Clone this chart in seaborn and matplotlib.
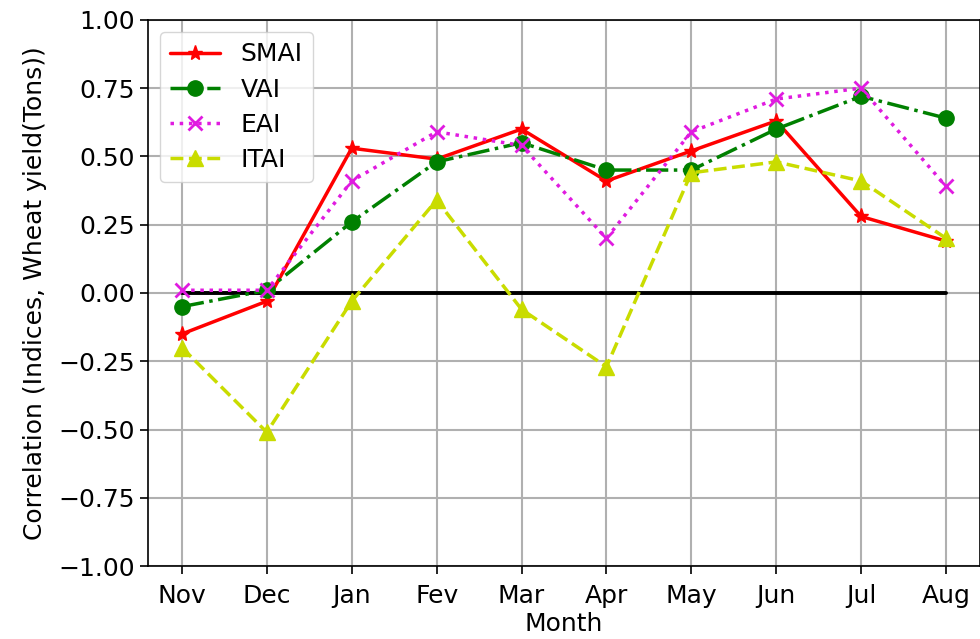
import matplotlib
matplotlib.use("Agg")
import matplotlib.pyplot as plt
import seaborn as sns
import pandas as pd

months = ["Nov", "Dec", "Jan", "Fev", "Mar", "Apr", "May", "Jun", "Jul", "Aug"]
smai = [-0.15, -0.03, 0.53, 0.49, 0.60, 0.41, 0.52, 0.63, 0.28, 0.19]
vai = [-0.05, 0.01, 0.26, 0.48, 0.55, 0.45, 0.45, 0.60, 0.72, 0.64]
eai = [0.01, 0.01, 0.41, 0.59, 0.54, 0.20, 0.59, 0.71, 0.75, 0.39]
itai = [-0.20, -0.51, -0.03, 0.34, -0.06, -0.27, 0.44, 0.48, 0.41, 0.20]
zero_line = [0.0] * len(months)
y_ticks = [-1.00, -0.75, -0.50, -0.25, 0.00, 0.25, 0.50, 0.75, 1.00]

sns.set_style("ticks")
plt.rcParams["font.family"] = ["DejaVu Sans"]
plt.rcParams["text.color"] = "black"
plt.rcParams["axes.labelcolor"] = "black"
plt.rcParams["xtick.color"] = "black"
plt.rcParams["ytick.color"] = "black"

fig = plt.figure(figsize=(9.8, 6.39), dpi=100)
ax = fig.add_axes([0.151, 0.114, 0.849, 0.855])

pos = list(range(len(months)))
df = pd.DataFrame({"pos": pos, "SMAI": smai, "VAI": vai, "EAI": eai,
                   "ITAI": itai, "zero": zero_line})

series = [
    ("SMAI", "#ff0000", "-", "*", 11),
    ("VAI", "#008000", "-.", "o", 11),
    ("EAI", "#e01be0", ":", "x", 10),
    ("ITAI", "#c9dc00", "--", "^", 11),
]
for name, color, ls, mk, ms in series:
    sns.lineplot(data=df, x="pos", y=name, ax=ax, color=color, linestyle=ls,
                 marker=mk, markersize=ms, linewidth=2.5, label=name,
                 markeredgecolor=color, markeredgewidth=2 if mk == "x" else 1)

sns.lineplot(data=df, x="pos", y="zero", ax=ax, color="black",
             linewidth=2.8, zorder=1)

ax.set_xlim(-0.4, len(months) - 1 + 0.4)
ax.set_ylim(-1.0, 1.0)
ax.set_xticks(pos)
ax.set_xticklabels(months)
ax.set_yticks(y_ticks)
ax.set_yticklabels([f"{t:.2f}".replace("-", "\u2212") for t in y_ticks])
ax.tick_params(axis="both", labelsize=18, length=6, width=1.2, direction="out",
               color="black", labelcolor="black")
ax.tick_params(axis="x", pad=7)
ax.grid(True, color="#b0b0b0", linewidth=1.5)
ax.set_axisbelow(True)
for s in ax.spines.values():
    s.set_color("black")
    s.set_linewidth(1.2)

ax.set_xlabel("Month", fontsize=18, labelpad=3)
ax.set_ylabel("Correlation (Indices, Wheat yield(Tons))", fontsize=18,
              labelpad=8)

leg = ax.legend(loc="upper left", fontsize=18, frameon=True, fancybox=True,
                framealpha=0.8, edgecolor="#cccccc", handlelength=2.0,
                borderaxespad=0.5, labelspacing=0.45)

fig.savefig("out.png", dpi=100)
